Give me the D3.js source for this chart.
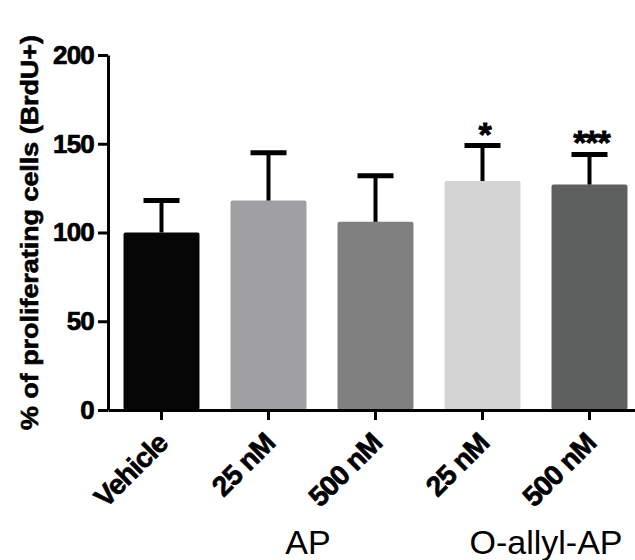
<!DOCTYPE html>
<html>
<head>
<meta charset="utf-8">
<script src="https://cdn.jsdelivr.net/npm/d3@7"></script>
<style>
  body { margin: 0; background: #fff; }
  text { font-family: "Liberation Sans", Arial, Helvetica, sans-serif; }
</style>
</head>
<body>
<div id="chart"></div>
<script>
//Constants for the SVG
var width = 635, height = 560;
var margin = {top: 55, left: 108, bottom: 150};

//Data
var categories = ["Vehicle", "AP 25 nM", "AP 500 nM", "O-allyl-AP 25 nM", "O-allyl-AP 500 nM"];
var tickLabels = ["Vehicle", "25 nM", "500 nM", "25 nM", "500 nM"];
var means = [100, 118, 106, 129, 127];
var sems = [18, 27, 26, 20, 17];
var stars = ["", "", "", "*", "***"];
var barColors = ["#050505", "#a0a0a2", "#808080", "#d4d4d4", "#5e605f"];
var groupNames = ["AP", "O-allyl-AP"];
var groupMembers = [[1, 2], [3, 4]];
var yTicks = [0, 50, 100, 150, 200];

var svg = d3.select("#chart").append("svg")
    .attr("width", width)
    .attr("height", height);

var x = d3.scaleBand()
    .domain(categories)
    .range([margin.left, margin.left + 535])
    .paddingInner(0.29)
    .paddingOuter(0.145);

var y = d3.scaleLinear()
    .domain([0, 200])
    .range([height - margin.bottom, margin.top]);

//bars
svg.append("g")
    .selectAll("rect")
    .data(means)
    .enter().append("rect")
    .attr("x", function(d, i) { return x(categories[i]); })
    .attr("y", function(d) { return y(d); })
    .attr("width", x.bandwidth())
    .attr("height", function(d) { return y(0) - y(d); })
    .attr("rx", 2)
    .attr("fill", function(d, i) { return barColors[i]; });

//error bars (upper only)
var err = svg.append("g")
    .selectAll("g")
    .data(means)
    .enter().append("g")
    .attr("stroke", "#000");

err.append("line")
    .attr("x1", function(d, i) { return x(categories[i]) + x.bandwidth() / 2; })
    .attr("x2", function(d, i) { return x(categories[i]) + x.bandwidth() / 2; })
    .attr("y1", function(d) { return y(d); })
    .attr("y2", function(d, i) { return y(d + sems[i]); })
    .attr("stroke-width", 4);

err.append("line")
    .attr("x1", function(d, i) { return x(categories[i]) + x.bandwidth() / 2 - 18; })
    .attr("x2", function(d, i) { return x(categories[i]) + x.bandwidth() / 2 + 18; })
    .attr("y1", function(d, i) { return y(d + sems[i]); })
    .attr("y2", function(d, i) { return y(d + sems[i]); })
    .attr("stroke-width", 5);

//significance stars
svg.append("g")
    .selectAll("text")
    .data(stars)
    .enter().append("text")
    .attr("x", function(d, i) { return x(categories[i]) + x.bandwidth() / 2 + 2; })
    .attr("y", function(d, i) { return y(means[i] + sems[i]) + 0; })
    .attr("text-anchor", "middle")
    .attr("font-size", 34)
    .attr("font-weight", "bold")
    .attr("letter-spacing", -1)
    .attr("stroke", "#000")
    .attr("stroke-width", 0.8)
    .text(function(d) { return d; });

//y axis
var yAxis = svg.append("g")
    .attr("transform", "translate(" + margin.left + ",0)")
    .call(d3.axisLeft(y).tickValues(yTicks).tickSize(10).tickPadding(4).tickSizeOuter(0));

yAxis.select(".domain").attr("stroke-width", 3);
yAxis.selectAll(".tick line").attr("stroke-width", 3);
yAxis.selectAll(".tick text")
    .attr("font-size", 26)
    .attr("font-weight", "bold")
    .attr("letter-spacing", -0.8)
    .attr("fill", "#000")
    .attr("stroke", "#000")
    .attr("stroke-width", 0.7);

//x axis
var xAxis = svg.append("g")
    .attr("transform", "translate(0," + y(0) + ")")
    .call(d3.axisBottom(x).tickSize(10).tickSizeOuter(0).tickFormat(function(d, i) { return tickLabels[i]; }));

xAxis.select(".domain").attr("stroke-width", 3);
xAxis.selectAll(".tick line").attr("stroke-width", 3);
xAxis.selectAll(".tick text")
    .attr("font-size", 28)
    .attr("font-weight", "bold")
    .attr("letter-spacing", -0.9)
    .attr("fill", "#000")
    .attr("stroke", "#000")
    .attr("stroke-width", 0.7)
    .attr("text-anchor", "end")
    .attr("transform", "translate(8,35) rotate(-45)")
    .attr("x", 0)
    .attr("y", 0)
    .attr("dy", 0);

//group labels under the ticks
svg.append("g")
    .selectAll("text")
    .data(groupNames)
    .enter().append("text")
    .attr("x", function(d, i) {
        var a = x(categories[groupMembers[i][0]]), b = x(categories[groupMembers[i][1]]);
        return (a + b) / 2 + x.bandwidth() / 2 + (i == 0 ? -14 : 10);
    })
    .attr("y", 554)
    .attr("text-anchor", "middle")
    .attr("font-size", 34)
    .text(function(d) { return d; });

//y axis title
svg.append("text")
    .attr("transform", "translate(38," + ((y(0) + y(200)) / 2) + ") rotate(-90)")
    .attr("text-anchor", "middle")
    .attr("font-size", 23)
    .attr("font-weight", "bold")
    .attr("stroke", "#000")
    .attr("stroke-width", 0.6)
    .attr("textLength", 395)
    .attr("lengthAdjust", "spacingAndGlyphs")
    .text("% of proliferating cells (BrdU+)");
</script>
</body>
</html>
